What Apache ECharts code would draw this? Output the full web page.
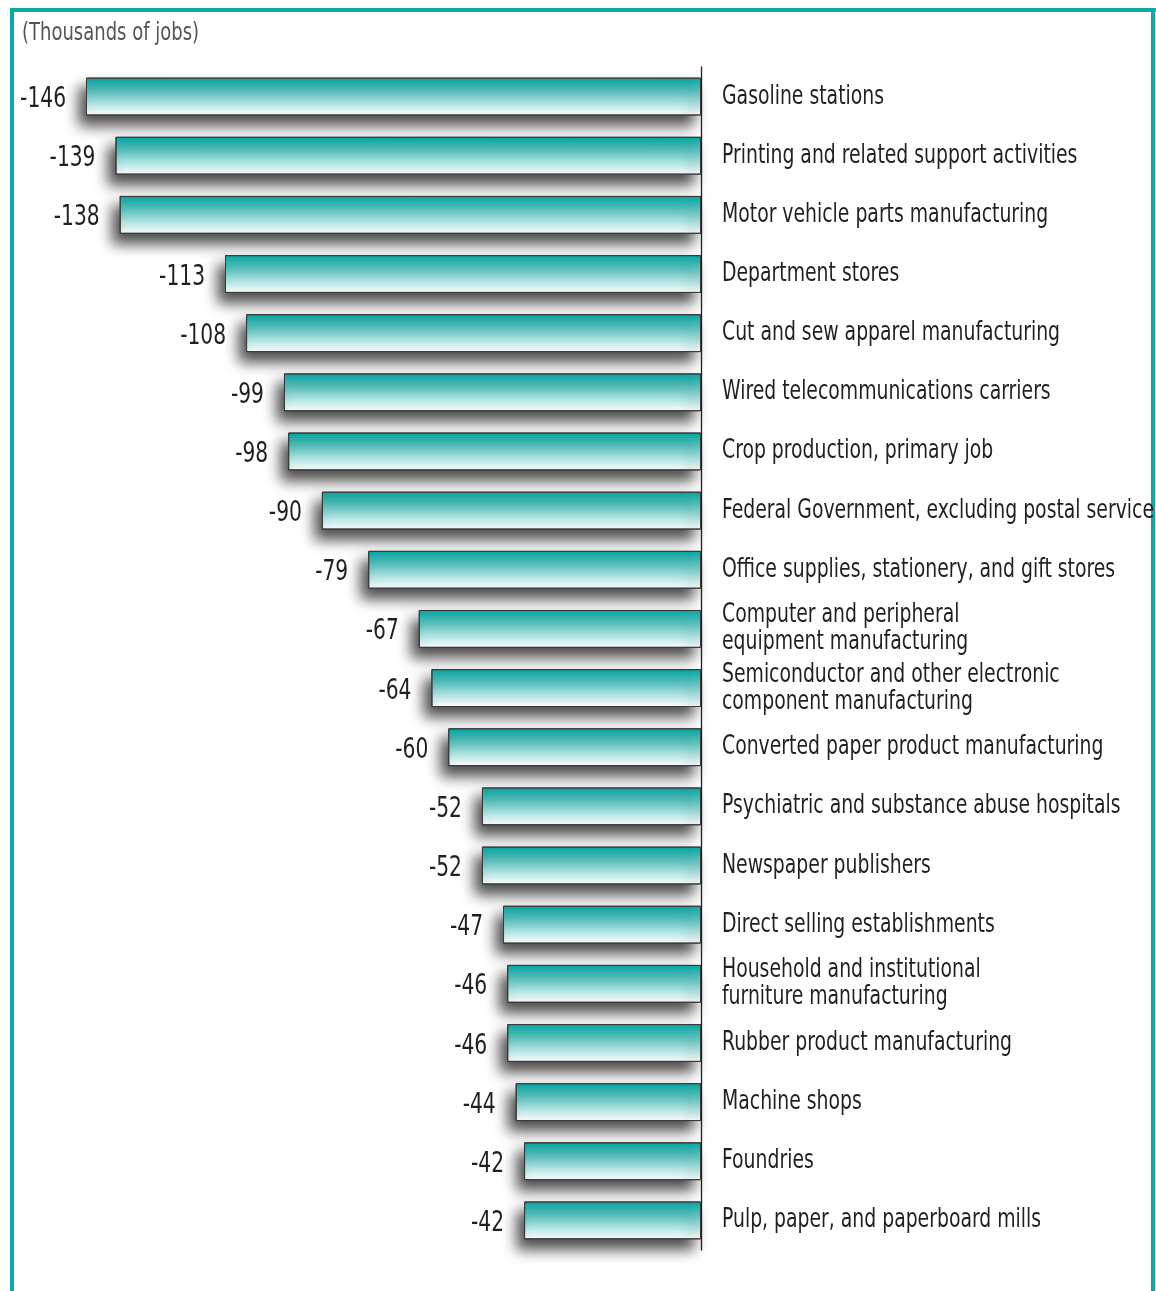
<!DOCTYPE html>
<html><head><meta charset="utf-8">
<script src="https://cdn.jsdelivr.net/npm/echarts@6/dist/echarts.min.js"></script>
<style>html,body{margin:0;padding:0;background:#fff;}#c{width:1156px;height:1291px;}</style>
</head><body><div id="c"></div>
<script>
const categories = [
  "Gasoline stations",
  "Printing and related support activities",
  "Motor vehicle parts manufacturing",
  "Department stores",
  "Cut and sew apparel manufacturing",
  "Wired telecommunications carriers",
  "Crop production, primary job",
  "Federal Government, excluding postal service",
  "Office supplies, stationery, and gift stores",
  "Computer and peripheral\nequipment manufacturing",
  "Semiconductor and other electronic\ncomponent manufacturing",
  "Converted paper product manufacturing",
  "Psychiatric and substance abuse hospitals",
  "Newspaper publishers",
  "Direct selling establishments",
  "Household and institutional\nfurniture manufacturing",
  "Rubber product manufacturing",
  "Machine shops",
  "Foundries",
  "Pulp, paper, and paperboard mills"
];
const jobChange = [-146, -139, -138, -113, -108, -99, -98, -90, -79, -67, -64, -60, -52, -52, -47, -46, -46, -44, -42, -42];
const unitLabel = "(Thousands of jobs)";

const FONT = '"DejaVu Sans Condensed", "Liberation Sans Narrow", "Roboto", sans-serif';
const TEXT_COLOR = '#231f20';
const SQUEEZE = 0.775;

const chart = echarts.init(document.getElementById('c'), null, {renderer: 'canvas'});
chart.setOption({
  backgroundColor: '#ffffff',
  animation: false,
  grid: {left: 86, right: 455, top: 67, bottom: 41, containLabel: false, outerBoundsMode: 'none'},
  xAxis: {
    type: 'value', min: -146, max: 0, show: false,
    splitLine: {show: false}
  },
  yAxis: {
    type: 'category', data: categories, inverse: true, position: 'right',
    axisLine: {show: true, onZero: false, lineStyle: {color: '#222', width: 1.3}},
    axisTick: {show: false},
    axisLabel: {show: false}
  },
  series: [{
    type: 'bar',
    data: jobChange,
    barCategoryGap: '36%',
    itemStyle: {
      color: new echarts.graphic.LinearGradient(0, 0, 0, 1, [
        {offset: 0, color: '#00a9a4'},
        {offset: 0.12, color: '#22b3af'},
        {offset: 1, color: '#ffffff'}
      ]),
      borderColor: '#3a3a3a', borderWidth: 1,
      shadowColor: 'rgba(0,0,0,0.7)', shadowBlur: 14,
      shadowOffsetX: -7, shadowOffsetY: 10
    },
    label: {show: false}
  }]
});

// Text drawn as real text, horizontally condensed to mimic the narrow original face.
const axisX = chart.convertToPixel({xAxisIndex: 0}, 0);
const graphics = [
  {type: 'rect', shape: {x: 10, y: 8, width: 1146, height: 4}, style: {fill: '#08aaa6'}},
  {type: 'rect', shape: {x: 10, y: 8, width: 4, height: 1283}, style: {fill: '#08aaa6'}},
  {type: 'rect', shape: {x: 1151, y: 8, width: 4, height: 1283}, style: {fill: '#08aaa6'}},
  {type: 'text', x: 22, y: 33, scaleX: 0.8,
   style: {text: unitLabel, fontFamily: FONT, fontSize: 25, fill: '#555', align: 'left', verticalAlign: 'middle'}}
];
categories.forEach(function (name, i) {
  const y = chart.convertToPixel({yAxisIndex: 0}, i);
  graphics.push({
    type: 'text', x: axisX + 21, y: y, scaleX: SQUEEZE,
    style: {text: name, fontFamily: FONT, fontSize: 27, lineHeight: 27, fill: TEXT_COLOR, align: 'left', verticalAlign: 'middle'}
  });
});
jobChange.forEach(function (v, i) {
  const p = chart.convertToPixel({seriesIndex: 0}, [v, i]);
  graphics.push({
    type: 'text', x: p[0] - 20, y: p[1] + 3, scaleX: SQUEEZE,
    style: {text: String(v), fontFamily: FONT, fontSize: 29, fill: TEXT_COLOR, align: 'right', verticalAlign: 'middle'}
  });
});
chart.setOption({graphic: graphics});
</script>
</body></html>
